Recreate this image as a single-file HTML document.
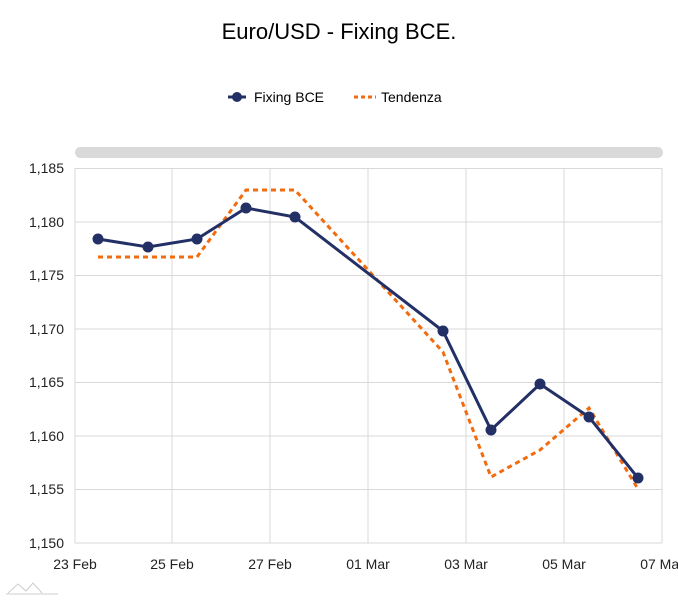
<!DOCTYPE html>
<html><head><style>
body{margin:0;background:#fff;}
svg text{font-family:"Liberation Sans",sans-serif;}
</style></head><body>
<svg width="678" height="600" xmlns="http://www.w3.org/2000/svg">
<rect width="678" height="600" fill="#fff"/>
<text x="339" y="39" text-anchor="middle" font-size="22" fill="#000">Euro/USD - Fixing BCE.</text>
<line x1="228" y1="97" x2="246" y2="97" stroke="#233066" stroke-width="3"/>
<circle cx="237" cy="97" r="5" fill="#233066"/>
<text x="254" y="102" font-size="14" fill="#000">Fixing BCE</text>
<line x1="354" y1="97" x2="376" y2="97" stroke="#f26b0f" stroke-width="3" stroke-dasharray="4,3"/>
<text x="381" y="102" font-size="14" fill="#000">Tendenza</text>
<rect x="75" y="147" width="588" height="11" rx="5.5" fill="#d9d9d9"/>
<g stroke="#d9d9d9" stroke-width="1">
<line x1="75" y1="168.5" x2="662" y2="168.5"/><line x1="75" y1="222" x2="662" y2="222"/>
<line x1="75" y1="275.5" x2="662" y2="275.5"/><line x1="75" y1="329" x2="662" y2="329"/>
<line x1="75" y1="382.5" x2="662" y2="382.5"/><line x1="75" y1="436" x2="662" y2="436"/>
<line x1="75" y1="489.5" x2="662" y2="489.5"/><line x1="75" y1="543" x2="662" y2="543"/>
<line x1="75" y1="168" x2="75" y2="543"/><line x1="172" y1="168" x2="172" y2="543"/>
<line x1="270" y1="168" x2="270" y2="543"/><line x1="368" y1="168" x2="368" y2="543"/>
<line x1="466" y1="168" x2="466" y2="543"/><line x1="564" y1="168" x2="564" y2="543"/>
<line x1="662" y1="168" x2="662" y2="543"/>
</g>
<g font-size="14" fill="#222" text-anchor="end">
<text x="64" y="173">1,185</text><text x="64" y="227">1,180</text><text x="64" y="280">1,175</text>
<text x="64" y="334">1,170</text><text x="64" y="387">1,165</text><text x="64" y="441">1,160</text>
<text x="64" y="494">1,155</text><text x="64" y="548">1,150</text>
</g>
<g font-size="14" fill="#222" text-anchor="middle">
<text x="75" y="569">23 Feb</text><text x="172" y="569">25 Feb</text><text x="270" y="569">27 Feb</text>
<text x="368" y="569">01 Mar</text><text x="466" y="569">03 Mar</text><text x="564" y="569">05 Mar</text>
<text x="662" y="569">07 Mar</text>
</g>
<polyline fill="none" stroke="#f26b0f" stroke-width="3" stroke-dasharray="5,4" points="98,257 197,257 246,190 295,190 443,352 491,477 540,450 589,408 638,489"/>
<polyline fill="none" stroke="#233066" stroke-width="3" points="98,239 148,247 197,239 246,208 295,217 443,331 491,430 540,384 589,417 638,478"/>
<g fill="#233066">
<circle cx="98" cy="239" r="5.5"/><circle cx="148" cy="247" r="5.5"/><circle cx="197" cy="239" r="5.5"/>
<circle cx="246" cy="208" r="5.5"/><circle cx="295" cy="217" r="5.5"/><circle cx="443" cy="331" r="5.5"/>
<circle cx="491" cy="430" r="5.5"/><circle cx="540" cy="384" r="5.5"/><circle cx="589" cy="417" r="5.5"/>
<circle cx="638" cy="478" r="5.5"/>
</g>
<path d="M8,593 L18,584 L26,591 L33,583 L42,593 M6,594 L58,594" fill="none" stroke="#ccc" stroke-width="1"/>
</svg>
</body></html>
